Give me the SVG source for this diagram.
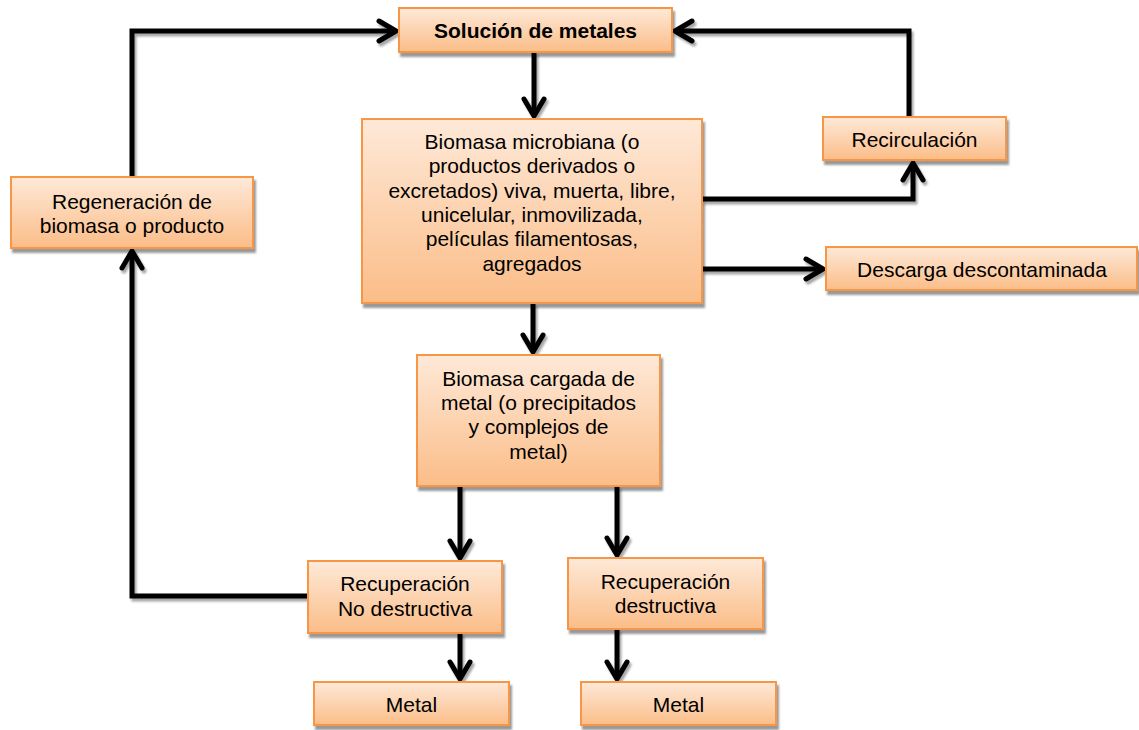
<svg xmlns="http://www.w3.org/2000/svg" width="1139" height="730" viewBox="0 0 1139 730">
<defs>
<linearGradient id="g" x1="0" y1="0" x2="0" y2="1">
<stop offset="0" stop-color="#fee9d8"/>
<stop offset="1" stop-color="#fbbd88"/>
</linearGradient>
<filter id="sh" x="-10%" y="-10%" width="130%" height="140%">
<feDropShadow dx="2" dy="4" stdDeviation="1.2" flood-color="#000" flood-opacity="0.4"/>
</filter>
<filter id="lsh" x="-5%" y="-5%" width="110%" height="110%">
<feDropShadow dx="2" dy="3" stdDeviation="1" flood-color="#000" flood-opacity="0.35"/>
</filter>
<marker id="ah" markerUnits="userSpaceOnUse" orient="auto" refX="0" refY="0" markerWidth="30" markerHeight="30" viewBox="-20 -15 30 30" overflow="visible">
<path d="M-17,-10 L0,0 L-17,10" fill="none" stroke="#000" stroke-width="5" stroke-linecap="round" stroke-linejoin="round"/>
</marker>
<style>
.box{fill:url(#g);stroke:#f79646;stroke-width:2;filter:url(#sh)}
.t{font-family:"Liberation Sans",Arial,sans-serif;font-size:21px;fill:#000;text-anchor:middle}
.b{font-weight:bold}
.c{fill:none;stroke:#000;stroke-width:5;marker-end:url(#ah)}
</style>
</defs>
<rect width="1139" height="730" fill="#fff"/>
<g id="connectors" filter="url(#lsh)">
<path class="c" d="M132,177 V31 H396"/>
<path class="c" d="M909,117 V31 H675"/>
<path class="c" d="M534,52 V116"/>
<path class="c" d="M702,199 H913 V163"/>
<path class="c" d="M702,269 H823"/>
<path class="c" d="M533,303 V352"/>
<path class="c" d="M460,486 V558"/>
<path class="c" d="M617,486 V555"/>
<path class="c" d="M460,633 V679"/>
<path class="c" d="M617,629 V679"/>
<path class="c" d="M308,596 H132 V251"/>
</g>
<g id="n-solucion">
<rect class="box" x="399" y="8" width="273" height="44"/>
<text class="t b" x="535.5" y="37.5">Solución de metales</text>
</g>
<g id="n-biomasa">
<rect class="box" x="362" y="119" width="340" height="184"/>
<text class="t" x="532" y="149">Biomasa microbiana (o</text>
<text class="t" x="532" y="173.3">productos derivados o</text>
<text class="t" x="532" y="197.6">excretados) viva, muerta, libre,</text>
<text class="t" x="532" y="222">unicelular, inmovilizada,</text>
<text class="t" x="532" y="246.3">películas filamentosas,</text>
<text class="t" x="532" y="270.6">agregados</text>
</g>
<g id="n-recirculacion">
<rect class="box" x="823" y="117" width="183" height="43"/>
<text class="t" x="914.5" y="146.5">Recirculación</text>
</g>
<g id="n-descarga">
<rect class="box" x="826" y="247" width="311" height="43"/>
<text class="t" x="982" y="276.5">Descarga descontaminada</text>
</g>
<g id="n-regeneracion">
<rect class="box" x="11" y="177" width="242" height="71"/>
<text class="t" x="132" y="209">Regeneración de</text>
<text class="t" x="132" y="233">biomasa o producto</text>
</g>
<g id="n-cargada">
<rect class="box" x="417" y="355" width="243" height="131"/>
<text class="t" x="538.5" y="385.7">Biomasa cargada de</text>
<text class="t" x="538.5" y="410">metal (o precipitados</text>
<text class="t" x="538.5" y="434.3">y complejos de</text>
<text class="t" x="538.5" y="458.6">metal)</text>
</g>
<g id="n-rnd">
<rect class="box" x="308" y="561" width="194" height="72"/>
<text class="t" x="405" y="591">Recuperación</text>
<text class="t" x="405" y="615.5">No destructiva</text>
</g>
<g id="n-rd">
<rect class="box" x="568" y="558" width="195" height="71"/>
<text class="t" x="665.5" y="589">Recuperación</text>
<text class="t" x="665.5" y="613">destructiva</text>
</g>
<g id="n-metal1">
<rect class="box" x="314" y="682" width="195" height="43"/>
<text class="t" x="411.5" y="711.5">Metal</text>
</g>
<g id="n-metal2">
<rect class="box" x="581" y="682" width="195" height="43"/>
<text class="t" x="678.5" y="711.5">Metal</text>
</g>
</svg>
